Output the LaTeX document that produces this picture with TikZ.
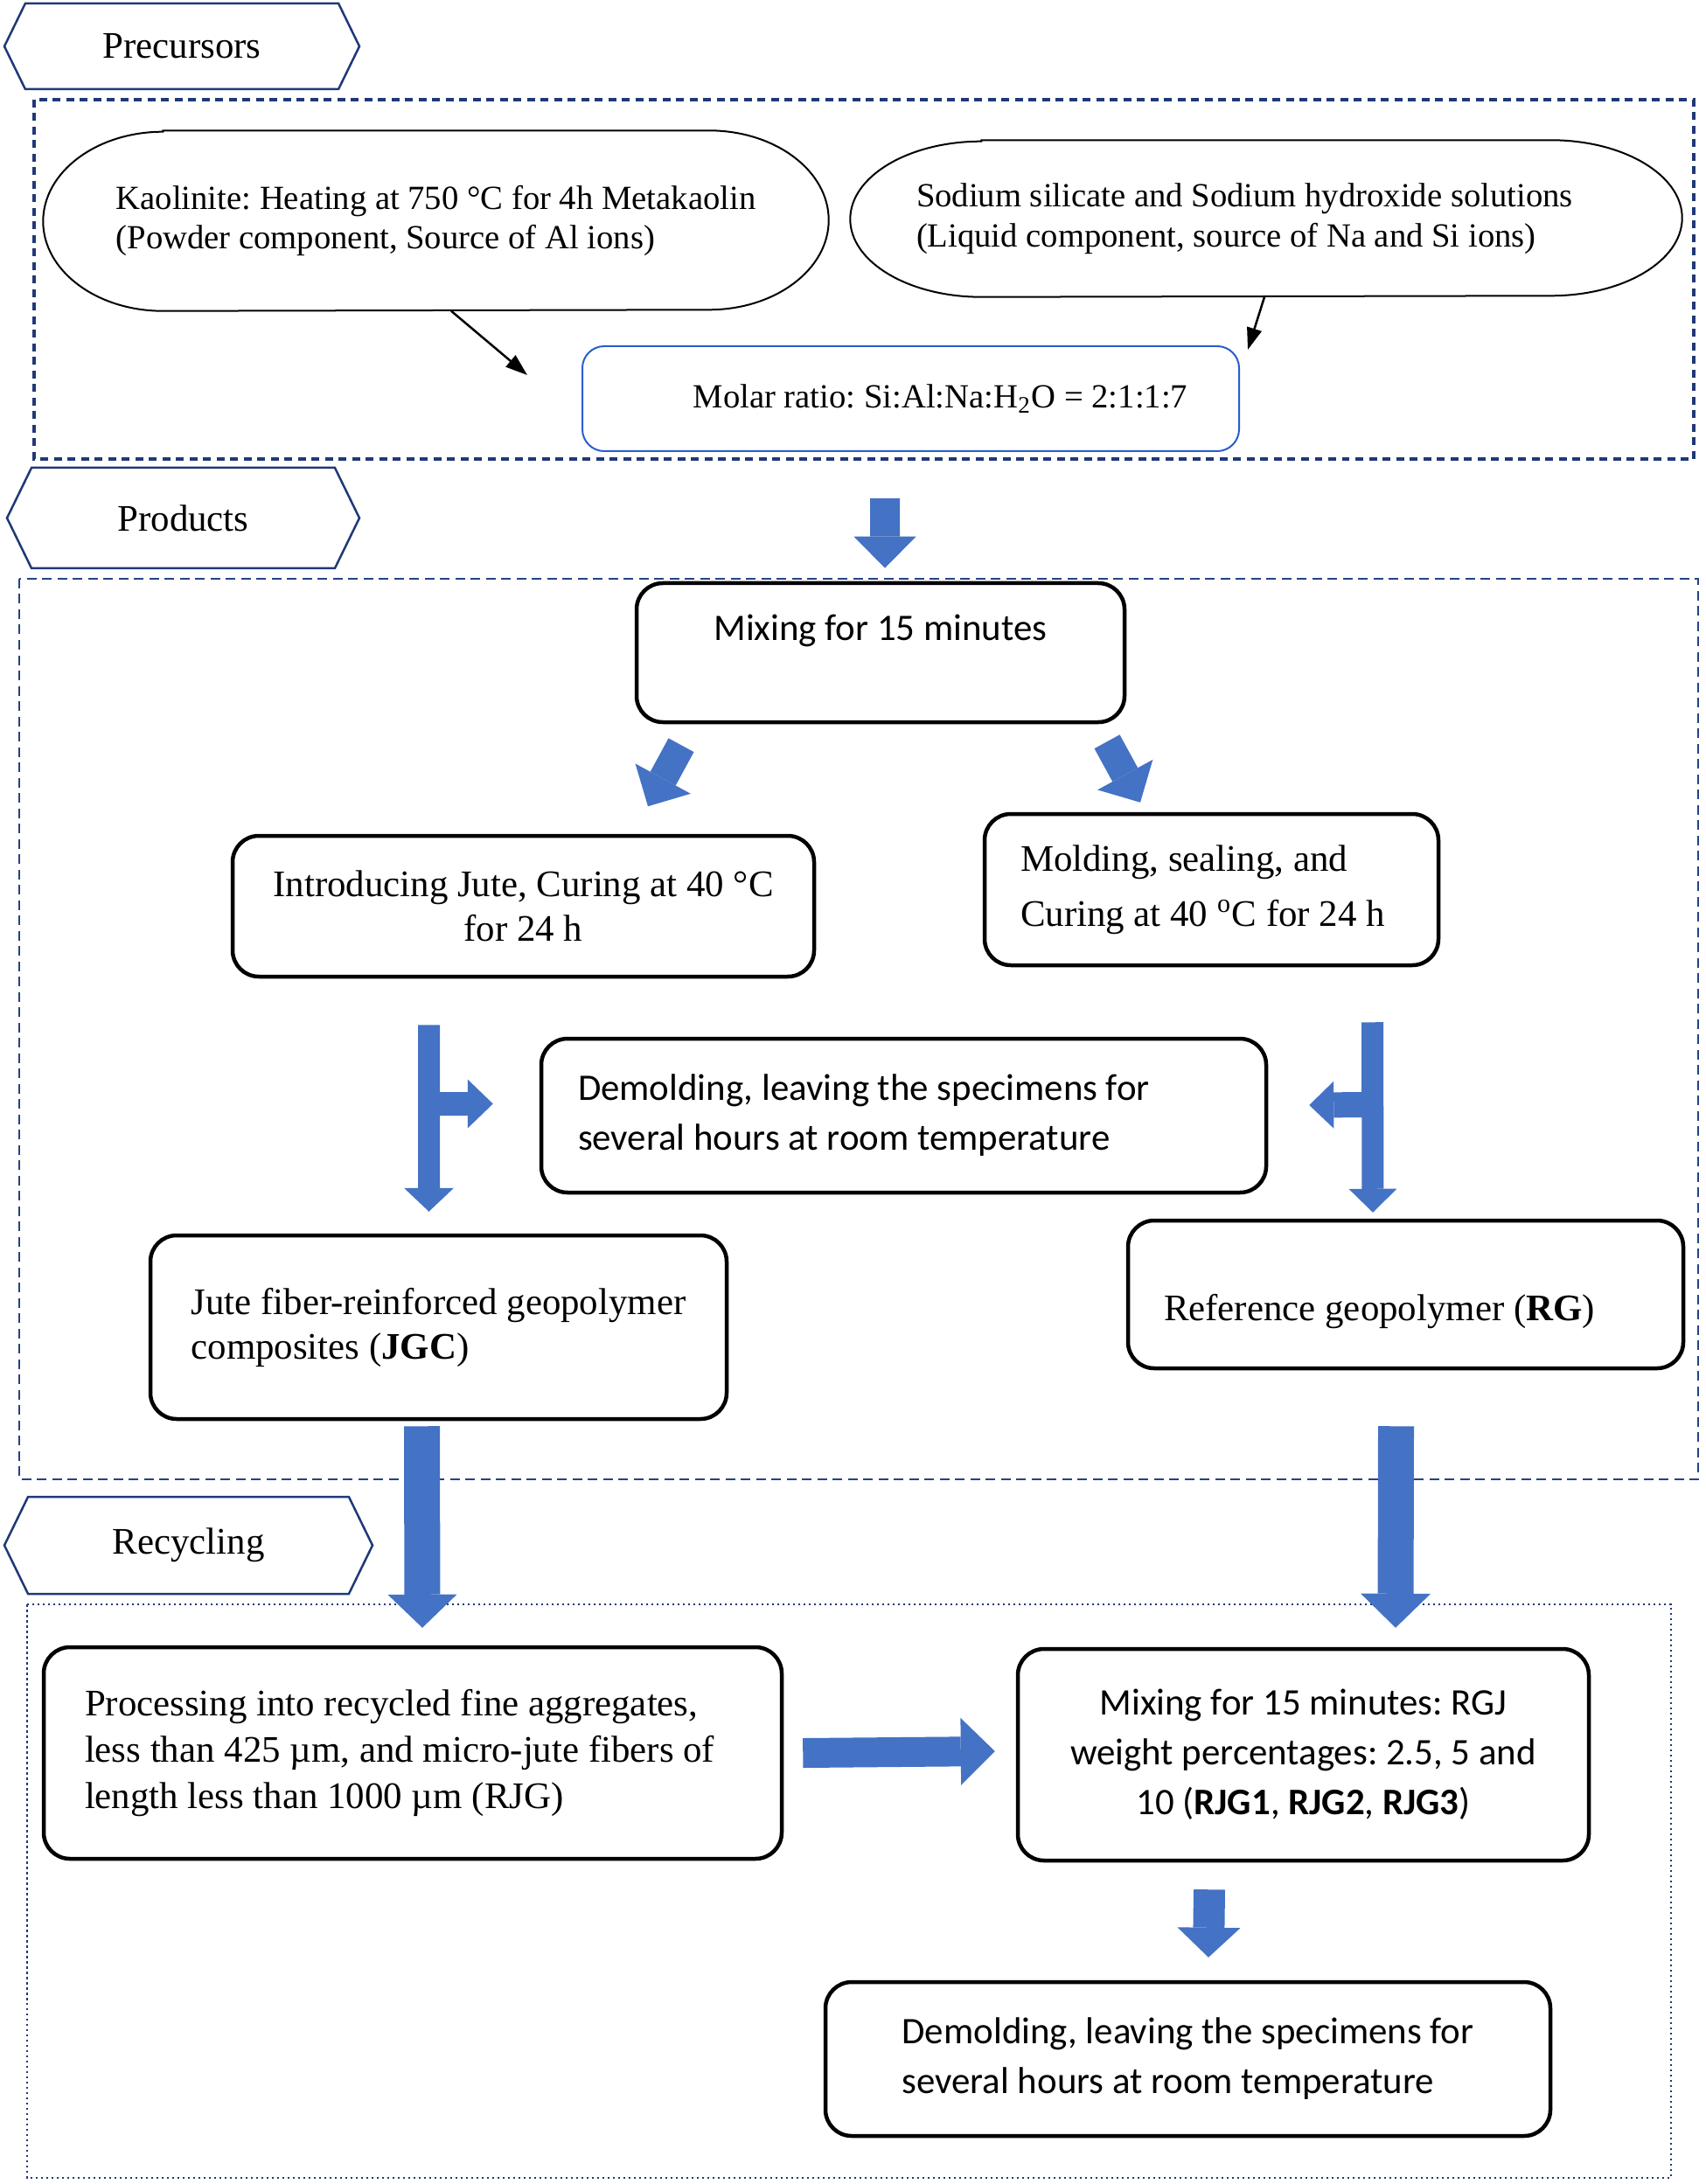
\documentclass[tikz,border=0pt]{standalone}
\usepackage{fontspec}
\setmainfont{Liberation Serif}
\newfontfamily\carlito{Carlito}
\usetikzlibrary{arrows.meta,shapes.symbols}
\frenchspacing

\definecolor{navy}{RGB}{31,56,120}
\definecolor{framebl}{RGB}{36,66,135}
\definecolor{molarbl}{RGB}{40,95,205}
\definecolor{arrbl}{RGB}{68,114,196}

% outline of the two precursor capsules
\newcommand{\drawcapsule}[3]{%
  \draw[line width=0.02cm] ([xshift=#2]#1.north west) -- ([xshift=-#2]#1.north east)
    arc[start angle=90,end angle=-90,x radius=#2,y radius=#3]
    -- ([xshift=#2]#1.south west)
    arc[start angle=270,end angle=90,x radius=#2,y radius=#3] -- cycle;}

\tikzset{
  tabshape/.style={signal, signal to=west and east, signal pointer angle=128,
      draw=navy, line width=0.025cm, inner sep=0pt,
      font=\fontsize{12.2}{14}\selectfont},
  procbox/.style={draw, line width=0.045cm, rounded corners=0.3cm, inner sep=0pt},
  tmtext/.style={font=\fontsize{12.2}{14.5}\selectfont},
  cbtext/.style={font=\carlito\fontsize{12.2}{16.2}\selectfont},
  fat/.style n args={3}{draw=arrbl, line width=#1,
      -{Triangle[width=#2,length=#3,line width=0pt]}},
  blackarr/.style={line width=0.025cm, -{Triangle[length=0.25cm,width=0.17cm]}}
}

\begin{document}
\begin{tikzpicture}
    \useasboundingbox (0,0) rectangle (19.5,-24.98);

    % section frames
    \draw[navy, line width=0.045cm, dash pattern=on 0.09cm off 0.065cm] (0.39,-1.14) rectangle (19.37,-5.25);
    \draw[framebl, line width=0.025cm, dash pattern=on 0.11cm off 0.065cm] (0.22,-6.62) rectangle (19.42,-16.92);
    \draw[navy, line width=0.025cm, dash pattern=on 0.025cm off 0.035cm] (0.31,-18.35) rectangle (19.11,-24.91);

    \node (pre) at (2.08,-0.53) [tabshape, minimum width=4.06cm, minimum height=0.98cm] {Precursors};
    \node (prod) at (2.095,-5.925) [tabshape, minimum width=4.03cm, minimum height=1.15cm] {Products};
    \node (rec) at (2.155,-17.675) [tabshape, minimum width=4.21cm, minimum height=1.11cm] {Recycling};

    % precursors
    \node (kaol) at (4.985,-2.525) [minimum width=8.97cm, minimum height=2.05cm,
        align=flush left, font=\fontsize{11}{12.8}\selectfont]
        {Kaolinite: Heating at 750 °C for 4h Metakaolin\\(Powder component, Source of Al ions)};
    \node (soda) at (14.48,-2.50) [minimum width=9.50cm, minimum height=1.78cm, inner xsep=0.75cm,
        text width=8.0cm, align=flush left, font=\fontsize{11}{13}\selectfont]
        {Sodium silicate and Sodium hydroxide solutions\\(Liquid component, source of Na and Si ions)};
    \drawcapsule{kaol}{1.37cm}{1.025cm}
    \drawcapsule{soda}{1.5cm}{0.89cm}
    \node (molar) at (10.415,-4.56) [draw=molarbl, line width=0.02cm, rounded corners=0.25cm,
        minimum width=7.51cm, minimum height=1.20cm, font=\fontsize{11}{13}\selectfont]
        {\hspace*{6.8mm}Molar ratio: Si:Al:Na:H\textsubscript{2}O = 2:1:1:7};
    \coordinate (k2m) at (6.03,-4.29);
    \coordinate (s2m) at (14.27,-4.00);
    \draw[blackarr] ([xshift=1.75mm]kaol.south) -- (k2m);
    \draw[blackarr] ([xshift=-0.2mm]soda.south) -- (s2m);

    % products
    \node (mix) at (10.07,-7.465) [procbox, cbtext, minimum width=5.58cm, minimum height=1.59cm, align=flush center]
        {Mixing for 15 minutes\\\mbox{}};
    \node (intro) at (5.985,-10.365) [procbox, tmtext, minimum width=6.65cm, minimum height=1.61cm, align=flush center]
        {Introducing Jute, Curing at 40 °C\\for 24 h};
    \node (mold) at (13.855,-10.175) [procbox, tmtext, minimum width=5.19cm, minimum height=1.73cm,
        inner xsep=0.41cm, text width=4.37cm, align=flush left]
        {Molding, sealing, and\\[3.4pt]Curing at 40 \textsuperscript{o}C for 24 h};
    \node (demold) at (10.335,-12.76) [procbox, cbtext, minimum width=8.29cm, minimum height=1.76cm,
        inner xsep=0.42cm, text width=7.45cm, align=flush left]
        {Demolding, leaving the specimens for\\several hours at room temperature};
    \node (jgc) at (5.015,-15.18) [procbox, tmtext, minimum width=6.59cm, minimum height=2.10cm, align=flush left]
        {Jute fiber-reinforced geopolymer\\composites (\textbf{JGC})};
    \node (rg) at (16.075,-14.805) [procbox, tmtext, minimum width=6.35cm, minimum height=1.69cm,
        inner xsep=0.41cm, text width=5.53cm, text height=0.7cm, text depth=0.1cm, align=flush left]
        {Reference geopolymer (\textbf{RG})};

    % recycling
    \node (proc) at (4.72,-20.05) [procbox, tmtext, minimum width=8.44cm, minimum height=2.42cm,
        inner xsep=0.47cm, text width=7.50cm, align=flush left, font=\fontsize{12.2}{15.2}\selectfont]
        {Processing into recycled fine aggregates,\\less than 425 µm, and micro-jute fibers of\\length less than 1000 µm (RJG)};
    \node (mixr) at (14.905,-20.07) [procbox, cbtext, minimum width=6.53cm, minimum height=2.42cm, align=flush center]
        {Mixing for 15 minutes: RGJ\\weight percentages: 2.5, 5 and\\10 (\textbf{RJG1}, \textbf{RJG2}, \textbf{RJG3})};
    \node (fin) at (13.585,-23.55) [procbox, cbtext, minimum width=8.29cm, minimum height=1.76cm, align=flush left]
        {Demolding, leaving the specimens for\\several hours at room temperature};

    % block arrows
    \draw[fat={0.34cm}{0.71cm}{0.36cm}] ([xshift=-2.95mm,yshift=-5.3mm]molar.south) -- ([xshift=0.5mm,yshift=1.5mm]mix.north);
    \draw[fat={0.33cm}{0.72cm}{0.36cm}] ([xshift=-22.8mm,yshift=-2.4mm]mix.south) -- ([xshift=14.25mm,yshift=3.15mm]intro.north);
    \draw[fat={0.33cm}{0.72cm}{0.36cm}] ([xshift=25.9mm,yshift=-2mm]mix.south) -- ([xshift=-8.15mm,yshift=1.1mm]mold.north);

    \coordinate (lj) at (4.905,-12.625);
    \coordinate (rj) at (15.695,-12.635);
    \draw[fat={0.25cm}{0.57cm}{0.27cm}] ([xshift=-10.8mm,yshift=-5.3mm]intro.south) -- ([xshift=-1.1mm,yshift=2.5mm]jgc.north);
    \draw[fat={0.27cm}{0.56cm}{0.29cm}] (lj) -- ([xshift=-5.3mm,yshift=1.35mm]demold.west);
    \draw[fat={0.25cm}{0.55cm}{0.27cm}] ([xshift=18.4mm,yshift=-6.3mm]mold.south) -- ([xshift=-3.75mm,yshift=0.7mm]rg.north);
    \draw[fat={0.29cm}{0.54cm}{0.28cm}] (rj) -- ([xshift=4.7mm,yshift=1.2mm]demold.east);

    \draw[fat={0.41cm}{0.79cm}{0.38cm}] ([xshift=-1.9mm,yshift=-0.6mm]jgc.south) -- ([xshift=1.1mm,yshift=2mm]proc.north);
    \draw[fat={0.41cm}{0.80cm}{0.39cm}] ([xshift=-1.1mm,yshift=-6.4mm]rg.south) -- ([xshift=10.55mm,yshift=2.2mm]mixr.north);
    \draw[fat={0.34cm}{0.77cm}{0.39cm}] ([xshift=2.2mm]proc.east) -- ([xshift=-2.4mm,yshift=0.4mm]mixr.west);
    \draw[fat={0.36cm}{0.72cm}{0.34cm}] ([xshift=-10.75mm,yshift=-3.1mm]mixr.south) -- ([xshift=2.35mm,yshift=2.6mm]fin.north);
\end{tikzpicture}
\end{document}
